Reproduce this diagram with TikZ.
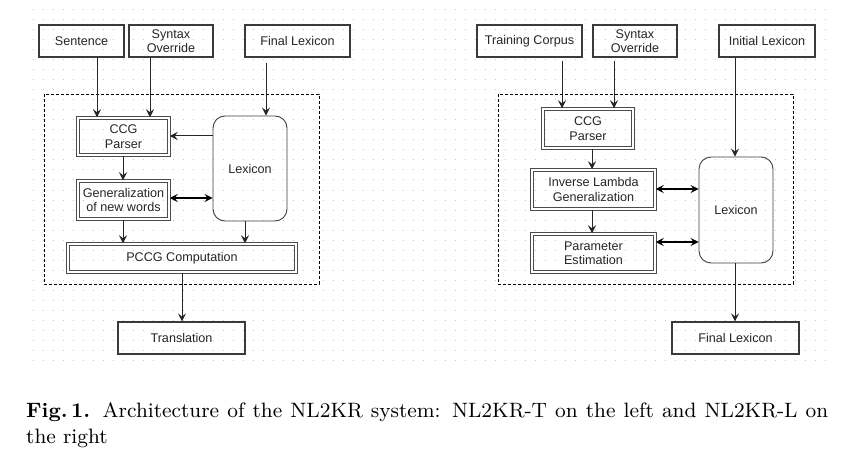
\documentclass[tikz,border=0pt]{standalone}
\usepackage{fontspec}
\newfontfamily\arialf{Liberation Sans}
\newfontfamily\capf{lmroman9-regular.otf}[BoldFont=lmroman9-bold.otf]
\usetikzlibrary{arrows.meta}
\definecolor{lc}{HTML}{262626}
\definecolor{bc}{HTML}{3A3A3A}
\begin{document}
\begin{tikzpicture}[x=1pt,y=-1pt,
  every node/.style={font=\arialf\fontsize{12.6}{14.4}\selectfont, text=lc, align=center, inner sep=0pt},
  plainbox/.style={draw=bc, line width=1.1pt, minimum height=32pt},
  dblbox/.style={draw=black!70, double=white, double distance=1.8pt, line width=1pt},
  lexbox/.style={draw=black!75, line width=0.9pt, rounded corners=12pt},
  arr/.style={draw=lc, line width=1pt, -{Stealth[length=8pt,width=8pt,inset=3pt]}},
  darr/.style={draw=black, line width=1.6pt, {Stealth[length=8pt,width=8pt,inset=3pt]}-{Stealth[length=8pt,width=8pt,inset=3pt]}},
  dashbox/.style={draw=black, line width=0.8pt, dash pattern=on 3pt off 2pt},
  griddot/.style={draw=black!22, line width=1pt, dash pattern=on 1pt off 9pt}
]
\useasboundingbox (0,0) rectangle (857,476);
\fill[white] (0,0) rectangle (857,476);
% grids
\foreach \yy in {10,20,...,360} {
  \draw[griddot] (32.5,\yy) -- (426,\yy);
  \draw[griddot] (434.5,\yy) -- (827,\yy);
}
% ---------- left diagram ----------
\draw[dashbox] (44,94) rectangle (319,284);
\node[plainbox, minimum width=85pt] (sent) at (81.5,41) {Sentence};
\node[plainbox, minimum width=84pt] (synA) at (171,41) {Syntax\\Override};
\node[plainbox, minimum width=105pt] (flexA) at (297.5,41) {Final Lexicon};
\node[dblbox, minimum width=91.5pt, minimum height=37.5pt] (ccgA) at (123.5,136.5) {CCG\\Parser};
\node[dblbox, minimum width=91.5pt, minimum height=38.5pt] (gen) at (123.5,200) {Generalization\\of new words};
\node[lexbox, minimum width=74pt, minimum height=105pt] (lexA) at (250,168.5) {Lexicon};
\node[dblbox, minimum width=228.5pt, minimum height=28.5pt] (pccg) at (182,258) {PCCG Computation};
\node[plainbox, minimum width=127pt] (trans) at (181.5,338) {Translation};
\coordinate (xA1) at (97,0);
\coordinate (xA2) at (150,0);
\coordinate (xA3) at (266,0);
\coordinate (xA4) at (123,0);
\coordinate (xA5) at (245,0);
\coordinate (xA6) at (182,0);
\coordinate (yA1) at (0,136);
\coordinate (yA2) at (0,198);
\draw[arr] (sent.south -| xA1) -- (ccgA.north -| xA1);
\draw[arr] (synA.south -| xA2) -- (ccgA.north -| xA2);
\draw[arr, shorten <=5pt] (flexA.south -| xA3) -- (lexA.north -| xA3);
\draw[arr] (lexA.west |- yA1) -- (ccgA.east |- yA1);
\draw[arr] (ccgA.south -| xA4) -- (gen.north -| xA4);
\draw[darr] (gen.east |- yA2) -- (lexA.west |- yA2);
\draw[arr] (gen.south -| xA4) -- (pccg.north -| xA4);
\draw[arr] (lexA.south -| xA5) -- (pccg.north -| xA5);
\draw[arr] (pccg.south -| xA6) -- (trans.north -| xA6);
% ---------- right diagram ----------
\draw[dashbox] (498,94) rectangle (793,284);
\node[plainbox, minimum width=105pt] (tc) at (529.5,41) {Training Corpus};
\node[plainbox, minimum width=84pt] (synB) at (635,41) {Syntax\\Override};
\node[plainbox, minimum width=96pt] (ilex) at (767,41) {Initial Lexicon};
\node[dblbox, minimum width=90.5pt, minimum height=39.5pt] (ccgB) at (588,128.5) {CCG\\Parser};
\node[dblbox, minimum width=123.5pt, minimum height=39.5pt] (ilg) at (593.5,189.5) {Inverse Lambda\\Generalization};
\node[dblbox, minimum width=123.5pt, minimum height=38.5pt] (pe) at (593.5,253) {Parameter\\Estimation};
\node[lexbox, minimum width=74pt, minimum height=106pt] (lexB) at (736,210) {Lexicon};
\node[plainbox, minimum width=127pt] (flexB) at (735.5,338) {Final Lexicon};
\coordinate (xB1) at (562,0);
\coordinate (xB2) at (614,0);
\coordinate (xB3) at (735,0);
\coordinate (xB4) at (592,0);
\coordinate (yB1) at (0,189);
\coordinate (yB2) at (0,242);
\draw[arr, shorten <=3pt] (tc.south -| xB1) -- (ccgB.north -| xB1);
\draw[arr, shorten <=3pt] (synB.south -| xB2) -- (ccgB.north -| xB2);
\draw[arr] (ilex.south -| xB3) -- (lexB.north -| xB3);
\draw[arr] (ccgB.south -| xB4) -- (ilg.north -| xB4);
\draw[darr] (ilg.east |- yB1) -- (lexB.west |- yB1);
\draw[arr] (ilg.south -| xB4) -- (pe.north -| xB4);
\draw[darr] (pe.east |- yB2) -- (lexB.west |- yB2);
\draw[arr] (lexB.south -| xB3) -- (flexB.north -| xB3);
% ---------- caption ----------
\node[anchor=north west, text width=802pt, align=justify, text=black,
      font=\capf\fontsize{20.8}{26}\selectfont] (cap) at (26,402)
  {\textbf{Fig.\,1.} Architecture of the NL2KR system: NL2KR-T on the left and NL2KR-L on the right};
\end{tikzpicture}
\end{document}
